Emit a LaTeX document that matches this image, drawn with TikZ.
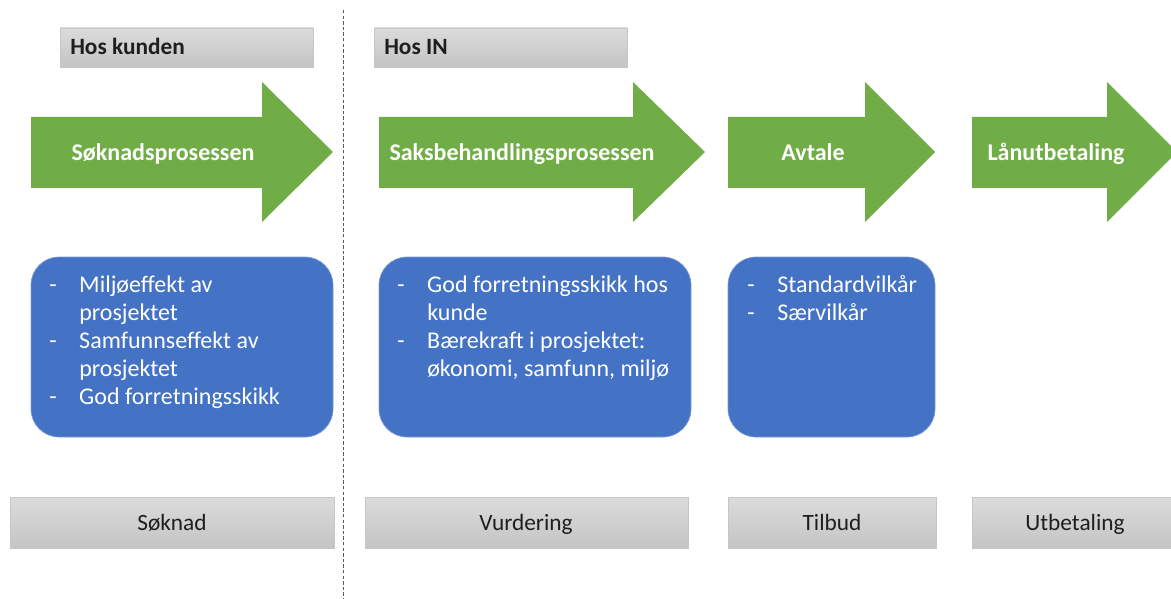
\documentclass[tikz,border=0pt]{standalone}
\usepackage{fontspec}
\setmainfont{Carlito}
\usetikzlibrary{calc}
\definecolor{arrowgreen}{HTML}{70AD47}
\definecolor{boxblue}{HTML}{4472C4}
\definecolor{labelgray}{HTML}{1E1E1E}

\begin{document}
\begin{tikzpicture}[x=0.75pt,y=-0.75pt,line join=round,
  graybox/.style={draw=gray!45,line width=0.5pt,top color=gray!28,bottom color=gray!46},
  bluebox/.style={fill=boxblue,draw=boxblue!70!white,line width=0.5pt,rounded corners=21pt},
  headtext/.style={anchor=base west,inner sep=0pt,font=\fontsize{17.5}{21}\selectfont\bfseries,text=labelgray},
  arrowtext/.style={anchor=base,inner sep=0pt,font=\fontsize{18}{21}\selectfont\bfseries,text=white},
  listtext/.style={anchor=north west,inner sep=0pt,font=\fontsize{18}{21}\selectfont,text=white},
  steptext/.style={anchor=base,inner sep=0pt,font=\fontsize{17.5}{21}\selectfont,text=labelgray}]
  \useasboundingbox (0,0) rectangle (1171,599);
  \clip (0,0) rectangle (1171,599);
  % headers
  \draw[graybox] (60,28) rectangle (313,67);
  \draw[graybox] (374,28) rectangle (627,67);
  \node[headtext] (hoskunden) at (70,55) {Hos kunden};
  \node[headtext] (hosin) at (384,55) {Hos IN};
  % separator
  \draw[gray!70!black,line width=0.6pt,dash pattern=on 2.6pt off 1.6pt] (343,10) -- (343,599);
  % process arrows
  \fill[arrowgreen] (31,117) -- (262,117) -- (262,82) -- (333,152) -- (262,222) -- (262,188) -- (31,188) -- cycle;
  \fill[arrowgreen] (379,117) -- (633,117) -- (633,82) -- (705,152) -- (633,222) -- (633,188) -- (379,188) -- cycle;
  \fill[arrowgreen] (728,117) -- (865,117) -- (865,82) -- (935,152) -- (865,222) -- (865,188) -- (728,188) -- cycle;
  \fill[arrowgreen] (972,117) -- (1107,117) -- (1107,82) -- (1177,152) -- (1107,222) -- (1107,188) -- (972,188) -- cycle;
  \node[arrowtext] (soknadsprosess) at (163,161) {Søknadsprosessen};
  \node[arrowtext] (saksbehandling) at (522,161) {Saksbehandlingsprosessen};
  \node[arrowtext] (avtale) at (813,161) {Avtale};
  \node[arrowtext] (lanutbetaling) at (1056,161) {Lånutbetaling};
  % criteria
  \draw[bluebox] (31,257) rectangle (333,437);
  \draw[bluebox] (379,257) rectangle (691,437);
  \draw[bluebox] (728,257) rectangle (935,437);
  \node[listtext] (kriterier1) at (49,272.5) {\begin{tabular}{@{}p{22.5pt}@{}l@{}}
    - & Miljøeffekt av\\ & prosjektet\\
    - & Samfunnseffekt av\\ & prosjektet\\
    - & God forretningsskikk\end{tabular}};
  \node[listtext] (kriterier2) at (397,272.5) {\begin{tabular}{@{}p{22.5pt}@{}l@{}}
    - & God forretningsskikk hos\\ & kunde\\
    - & Bærekraft i prosjektet:\\ & økonomi, samfunn, miljø\end{tabular}};
  \node[listtext] (kriterier3) at (747,272.5) {\begin{tabular}{@{}p{22.5pt}@{}l@{}}
    - & Standardvilkår\\
    - & Særvilkår\end{tabular}};
  % steps
  \draw[graybox] (10,497) rectangle (334,548);
  \draw[graybox] (365,497) rectangle (688,548);
  \draw[graybox] (728,497) rectangle (936,548);
  \draw[graybox] (972,497) rectangle (1180,548);
  \node[steptext] (soknad) at (172,530.5) {Søknad};
  \node[steptext] (vurdering) at (526,530.5) {Vurdering};
  \node[steptext] (tilbud) at (832,530.5) {Tilbud};
  \node[steptext] (utbetaling) at (1075,530.5) {Utbetaling};
\end{tikzpicture}
\end{document}
